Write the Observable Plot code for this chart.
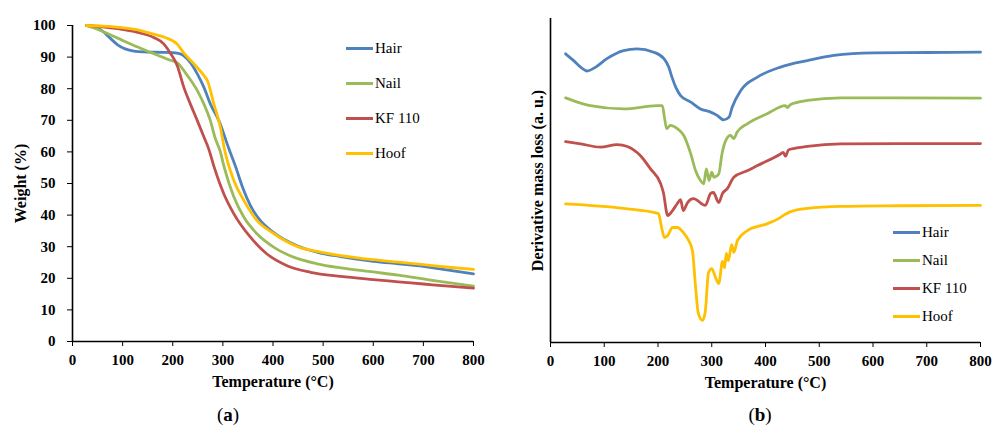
<!DOCTYPE html>
<html>
<head>
<meta charset="utf-8">
<script src="https://cdn.jsdelivr.net/npm/d3@7"></script>
<script src="https://cdn.jsdelivr.net/npm/@observablehq/plot@0.6"></script>
<style>
  body { margin: 0; background: #fff; }
  #wrap { position: relative; width: 994px; height: 430px; font-family: "Liberation Serif", "Times New Roman", serif; color: #000; }
  .panel { position: absolute; top: 0; }
  .leg { position: absolute; display: flex; align-items: center; font-size: 15px; }
  .leg span.sw { display: inline-block; width: 27px; height: 3px; margin-right: 2px; }
  .cap { position: absolute; font-size: 19px; transform: translate(-50%, -50%); }
</style>
</head>
<body>
<div id="wrap">
  <div id="pa" class="panel" style="left:0"></div>
  <div id="pb" class="panel" style="left:497px"></div>
  <div id="lega"></div>
  <div id="legb"></div>
  <div class="cap" style="left:228px;top:415px">(<b>a</b>)</div>
  <div class="cap" style="left:760px;top:415px">(<b>b</b>)</div>
</div>
<script>
// ---- series names and colours ----
const seriesNames = ["Hair", "Nail", "KF 110", "Hoof"];
const seriesColors = ["#4F81BD", "#9BBB59", "#C0504D", "#FFC000"];

// ---- tick values ----
const xTicks = [0, 100, 200, 300, 400, 500, 600, 700, 800];
const yTicksWeight = [0, 10, 20, 30, 40, 50, 60, 70, 80, 90, 100];

// ---- (a) TGA: weight (%) vs temperature (°C) ----
const tgaHairT = [28, 45, 60, 75, 90, 105, 120, 150, 180, 200, 215, 232, 249, 262, 275, 292, 312, 325, 340, 355, 372, 400, 448, 495, 535, 600, 650, 700, 750, 800];
const tgaHairW = [100, 99.5, 98.2, 96, 93.9, 92.6, 92, 91.6, 91.5, 91.4, 91, 88.9, 84.7, 80.5, 75.2, 69.9, 61, 55.5, 48.5, 43, 38.8, 34.6, 30.3, 28, 26.9, 25.4, 24.6, 23.8, 22.6, 21.4];

const tgaNailT = [28, 56, 90, 130, 170, 195, 209, 229, 249, 262, 275, 285, 295, 302, 322, 342, 368, 402, 441, 488, 535, 600, 650, 700, 750, 800];
const tgaNailW = [100, 98.4, 96, 93.2, 90.6, 89, 88.2, 84.2, 79.4, 75.2, 69.9, 64.2, 60, 55.5, 45.7, 39.3, 34.1, 29.8, 26.7, 24.6, 23.3, 22, 21, 19.8, 18.6, 17.5];

const tgaKfT = [28, 60, 90, 130, 162, 182, 195, 209, 222, 235, 249, 262, 272, 282, 302, 322, 355, 388, 428, 475, 535, 600, 650, 700, 750, 800];
const tgaKfW = [100, 99.6, 99, 97.8, 96.2, 94.2, 91.3, 87.3, 80.5, 75.2, 69.9, 64.8, 60.8, 55.5, 46.7, 40.4, 33, 27.7, 24, 21.9, 20.6, 19.6, 18.9, 18.2, 17.5, 16.9];

const tgaHoofT = [28, 60, 100, 130, 156, 185, 209, 222, 242, 262, 269, 282, 295, 303, 322, 342, 368, 402, 448, 495, 535, 600, 650, 700, 750, 800];
const tgaHoofW = [100, 99.8, 99.3, 98.6, 97.5, 96.2, 94.1, 91.3, 87.9, 84.2, 82.6, 75.2, 67.8, 61, 50.9, 44.6, 38.3, 34.1, 30.1, 28.3, 27.2, 25.9, 25.1, 24.3, 23.5, 22.8];

// ---- (b) DTG: derivative mass loss (a. u., read on a 0–100 scale) ----
const dtgHairT = [28, 43, 56, 68, 84, 105, 136, 161, 192, 211, 220, 226, 233, 242, 261, 279, 298, 310, 322, 332, 338, 354, 385, 428, 478, 527, 600, 700, 800];
const dtgHairV = [89.1, 87, 85, 83.8, 85, 87.6, 90.1, 90.6, 89.6, 87.6, 85, 81.9, 78.8, 76.2, 74.2, 72.1, 71.1, 70.1, 68.7, 69.5, 72.6, 77.8, 81.9, 85, 87, 88.6, 89.4, 89.5, 89.6];

const dtgNailT = [28, 50, 74, 136, 198, 208, 212, 216, 223, 236, 248, 261, 270, 279, 285, 290, 295, 300, 304, 313, 319, 326, 335, 341, 347, 366, 403, 437, 441, 446, 478, 540, 650, 800];
const dtgNailV = [75.5, 74.2, 73.1, 72.1, 73.1, 73.1, 69.5, 66, 67, 66, 63.9, 58.2, 53, 50, 49, 53.6, 50, 52.6, 51, 52, 58.2, 62.3, 63.9, 62.9, 64.9, 67.5, 70.6, 73.1, 72.5, 73.4, 74.7, 75.5, 75.5, 75.4];

const dtgKfT = [28, 56, 93, 124, 143, 167, 186, 205, 210, 218, 227, 236, 242, 247, 255, 266, 288, 298, 303, 313, 320, 329, 341, 366, 385, 428, 433, 437, 443, 478, 540, 650, 800];
const dtgKfV = [62, 61.3, 60.3, 61.1, 60.5, 57.7, 53.6, 49, 46.3, 39.2, 40.7, 42.9, 44.1, 40.7, 43.2, 44.4, 42.3, 46, 46.3, 43.2, 46, 47.5, 51, 53, 54.6, 58.2, 58.7, 57.5, 59.5, 60.5, 61.3, 61.4, 61.4];

const dtgHoofT = [28, 136, 201, 206, 212, 218, 227, 236, 247, 257, 264, 270, 275, 283, 288, 294, 300, 307, 313, 320, 324, 327, 331, 337, 341, 348, 367, 404, 428, 435, 447, 478, 540, 650, 800];
const dtgHoofV = [42.8, 41.4, 39.8, 36.1, 32.4, 33.0, 35.5, 35.5, 34.0, 31.5, 28.4, 17.0, 9.0, 6.8, 9.6, 21.6, 22.8, 20.1, 18.2, 25.0, 23.1, 27.5, 25.3, 30.2, 27.8, 31.5, 34.6, 36.7, 38.6, 39.4, 40.4, 41.4, 42.0, 42.2, 42.3];

function pts(T, V) { return T.map((t, i) => ({t, v: V[i]})); }

const tga = [pts(tgaHairT, tgaHairW), pts(tgaNailT, tgaNailW), pts(tgaKfT, tgaKfW), pts(tgaHoofT, tgaHoofW)];
const dtg = [pts(dtgHairT, dtgHairV), pts(dtgNailT, dtgNailV), pts(dtgKfT, dtgKfV), pts(dtgHoofT, dtgHoofV)];

const baseStyle = {fontFamily: "'Liberation Serif', 'Times New Roman', serif", fontSize: "15px", fontWeight: "bold", color: "#000", background: "#fff", overflow: "visible"};

function lines(sets) {
  return sets.map((d, i) => Plot.line(d, {x: "t", y: "v", stroke: seriesColors[i], strokeWidth: 2.8, curve: "monotone-x"}));
}

const chartA = Plot.plot({
  width: 497, height: 400,
  marginLeft: 72, marginRight: 24, marginTop: 25, marginBottom: 59,
  style: baseStyle,
  x: {domain: [0, 800]},
  y: {domain: [0, 100]},
  marks: [
    Plot.axisX({ticks: xTicks, tickSize: 5, tickPadding: 8, label: null}),
    Plot.axisY({ticks: yTicksWeight, tickSize: 5, tickPadding: 12, label: null}),
    ...lines(tga),
    Plot.ruleX([0], {stroke: "#000", strokeWidth: 1.6}),
    Plot.ruleY([0], {stroke: "#000", strokeWidth: 1.6}),
    Plot.text(["Temperature (°C)"], {frameAnchor: "bottom", dy: 45, fontSize: 16, fontWeight: "bold"}),
    Plot.text(["Weight (%)"], {frameAnchor: "left", rotate: -90, dx: -52, textAnchor: "middle", fontSize: 16, fontWeight: "bold"})
  ]
});
document.getElementById("pa").appendChild(chartA);

const chartB = Plot.plot({
  width: 497, height: 400,
  marginLeft: 53, marginRight: 14, marginTop: 18, marginBottom: 58,
  style: baseStyle,
  x: {domain: [0, 800]},
  y: {domain: [0, 100], axis: null},
  marks: [
    Plot.axisX({ticks: xTicks, tickSize: 5, tickPadding: 8, label: null}),
    ...lines(dtg),
    Plot.ruleX([0], {stroke: "#000", strokeWidth: 1.6}),
    Plot.ruleY([0], {stroke: "#000", strokeWidth: 1.6}),
    Plot.text(["Temperature (°C)"], {frameAnchor: "bottom", dy: 45, fontSize: 16, fontWeight: "bold"}),
    Plot.text(["Derivative mass loss (a. u.)"], {frameAnchor: "left", rotate: -90, dx: -13, textAnchor: "middle", fontSize: 16, fontWeight: "bold"})
  ]
});
document.getElementById("pb").appendChild(chartB);

// ---- legends (HTML) ----
function legend(containerId, left, tops) {
  const c = document.getElementById(containerId);
  seriesNames.forEach((name, i) => {
    const row = document.createElement("div");
    row.className = "leg";
    row.style.left = left + "px";
    row.style.top = (tops[i] - 10) + "px";
    row.style.height = "20px";
    const sw = document.createElement("span");
    sw.className = "sw";
    sw.style.background = seriesColors[i];
    row.appendChild(sw);
    row.appendChild(document.createTextNode(name));
    c.appendChild(row);
  });
}
legend("lega", 346, [48, 83, 118, 153]);
legend("legb", 893, [232, 260, 288, 316]);
</script>
</body>
</html>
